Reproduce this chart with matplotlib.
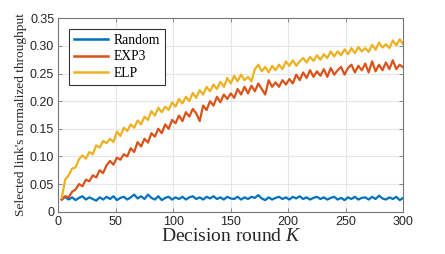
import matplotlib
matplotlib.use("Agg")
import matplotlib.pyplot as plt
from matplotlib.ticker import FixedLocator, FuncFormatter

rounds = list(range(3, 301, 3))

random_vals = [0.022, 0.027, 0.022, 0.026, 0.021, 0.025, 0.028, 0.022, 0.026, 0.023,
               0.020, 0.026, 0.022, 0.027, 0.023, 0.028, 0.021, 0.025, 0.027, 0.022,
               0.026, 0.031, 0.024, 0.028, 0.023, 0.031, 0.025, 0.022, 0.028, 0.021,
               0.025, 0.027, 0.022, 0.026, 0.023, 0.027, 0.022, 0.026, 0.028, 0.023,
               0.026, 0.022, 0.027, 0.024, 0.028, 0.023, 0.026, 0.022, 0.027, 0.024,
               0.023, 0.027, 0.022, 0.026, 0.023, 0.027, 0.025, 0.030, 0.024, 0.021,
               0.026, 0.022, 0.025, 0.027, 0.023, 0.026, 0.022, 0.027, 0.024, 0.028,
               0.023, 0.026, 0.022, 0.025, 0.027, 0.023, 0.026, 0.022, 0.025, 0.027,
               0.022, 0.025, 0.021, 0.026, 0.023, 0.027, 0.022, 0.025, 0.026, 0.022,
               0.027, 0.023, 0.029, 0.024, 0.022, 0.026, 0.023, 0.027, 0.021, 0.025]

exp3_vals = [0.022, 0.028, 0.026, 0.036, 0.040, 0.050, 0.046, 0.058, 0.055, 0.066,
             0.062, 0.075, 0.070, 0.084, 0.092, 0.085, 0.098, 0.094, 0.104, 0.100,
             0.115, 0.108, 0.126, 0.118, 0.132, 0.125, 0.142, 0.136, 0.150, 0.142,
             0.158, 0.150, 0.166, 0.160, 0.174, 0.164, 0.180, 0.172, 0.186, 0.178,
             0.164, 0.192, 0.184, 0.200, 0.192, 0.208, 0.198, 0.212, 0.204, 0.214,
             0.206, 0.222, 0.212, 0.226, 0.214, 0.228, 0.218, 0.232, 0.222, 0.212,
             0.238, 0.226, 0.234, 0.226, 0.238, 0.230, 0.240, 0.232, 0.248, 0.238,
             0.252, 0.242, 0.256, 0.244, 0.254, 0.246, 0.258, 0.244, 0.260, 0.248,
             0.256, 0.262, 0.248, 0.260, 0.266, 0.252, 0.264, 0.256, 0.268, 0.252,
             0.272, 0.254, 0.266, 0.256, 0.270, 0.258, 0.274, 0.258, 0.266, 0.261]

elp_vals = [0.025, 0.058, 0.066, 0.078, 0.080, 0.095, 0.102, 0.096, 0.108, 0.104,
            0.120, 0.116, 0.128, 0.124, 0.132, 0.126, 0.145, 0.137, 0.152, 0.146,
            0.158, 0.152, 0.165, 0.158, 0.172, 0.166, 0.182, 0.174, 0.188, 0.180,
            0.190, 0.184, 0.198, 0.190, 0.204, 0.196, 0.208, 0.200, 0.215, 0.206,
            0.220, 0.212, 0.226, 0.218, 0.230, 0.222, 0.235, 0.226, 0.242, 0.232,
            0.246, 0.236, 0.248, 0.238, 0.244, 0.236, 0.258, 0.266, 0.254, 0.262,
            0.252, 0.264, 0.256, 0.266, 0.258, 0.272, 0.264, 0.274, 0.264, 0.272,
            0.278, 0.270, 0.280, 0.273, 0.283, 0.275, 0.285, 0.278, 0.290, 0.281,
            0.290, 0.283, 0.294, 0.285, 0.296, 0.287, 0.298, 0.290, 0.296, 0.289,
            0.302, 0.293, 0.306, 0.297, 0.303, 0.296, 0.310, 0.301, 0.312, 0.303]

labels = ["Random", "EXP3", "ELP"]
colors = ["#0072BD", "#D95319", "#EDB120"]
xticks = [0, 50, 100, 150, 200, 250, 300]
yticks = [0, 0.05, 0.10, 0.15, 0.20, 0.25, 0.30, 0.35]

plt.rcParams['mathtext.fontset'] = 'custom'
plt.rcParams['mathtext.it'] = 'Liberation Serif:italic'
plt.rcParams['mathtext.rm'] = 'Liberation Serif'

fig = plt.figure(figsize=(4.45, 2.54), dpi=100)
ax = fig.add_axes([0.131, 0.1665, 0.775, 0.7615])

for vals, lab, col in zip([random_vals, exp3_vals, elp_vals], labels, colors):
    ax.plot(rounds, vals, color=col, lw=1.6, label=lab)

ax.set_xlim(0, 300)
ax.set_ylim(0, 0.35)
ax.xaxis.set_major_locator(FixedLocator(xticks))
ax.yaxis.set_major_locator(FixedLocator(yticks))
ax.yaxis.set_major_formatter(FuncFormatter(lambda v, p: "0" if v == 0 else f"{v:.2f}"))
ax.grid(True, color="#e6e6e6", lw=0.8)
ax.set_axisbelow(True)
for s in ax.spines.values():
    s.set_color("#777777")
    s.set_linewidth(0.8)
ax.tick_params(direction="in", length=3, width=0.6, colors="#777777",
               top=True, right=True, labelsize=9, labelcolor="#262626", pad=3)
for t in ax.get_xticklabels() + ax.get_yticklabels():
    t.set_fontfamily("Liberation Sans")

ax.set_xlabel("Decision round $K$", fontsize=14, family="Liberation Serif",
              color="#262626", labelpad=0)
ax.set_ylabel("Selected link's normalized throughput", fontsize=9.6,
              family="Liberation Serif", color="#262626", labelpad=2)

leg = ax.legend(loc="upper left", bbox_to_anchor=(0.032, 0.943), borderaxespad=0,
                prop={"family": "Liberation Serif", "size": 9.8},
                handlelength=2.5, handletextpad=0.4, borderpad=0.35,
                labelspacing=0.25, fancybox=False, framealpha=1)
leg.get_frame().set_edgecolor("#333333")
leg.get_frame().set_linewidth(0.8)
for l in leg.get_lines():
    l.set_linewidth(1.8)

fig.savefig("out.png", dpi=100)
